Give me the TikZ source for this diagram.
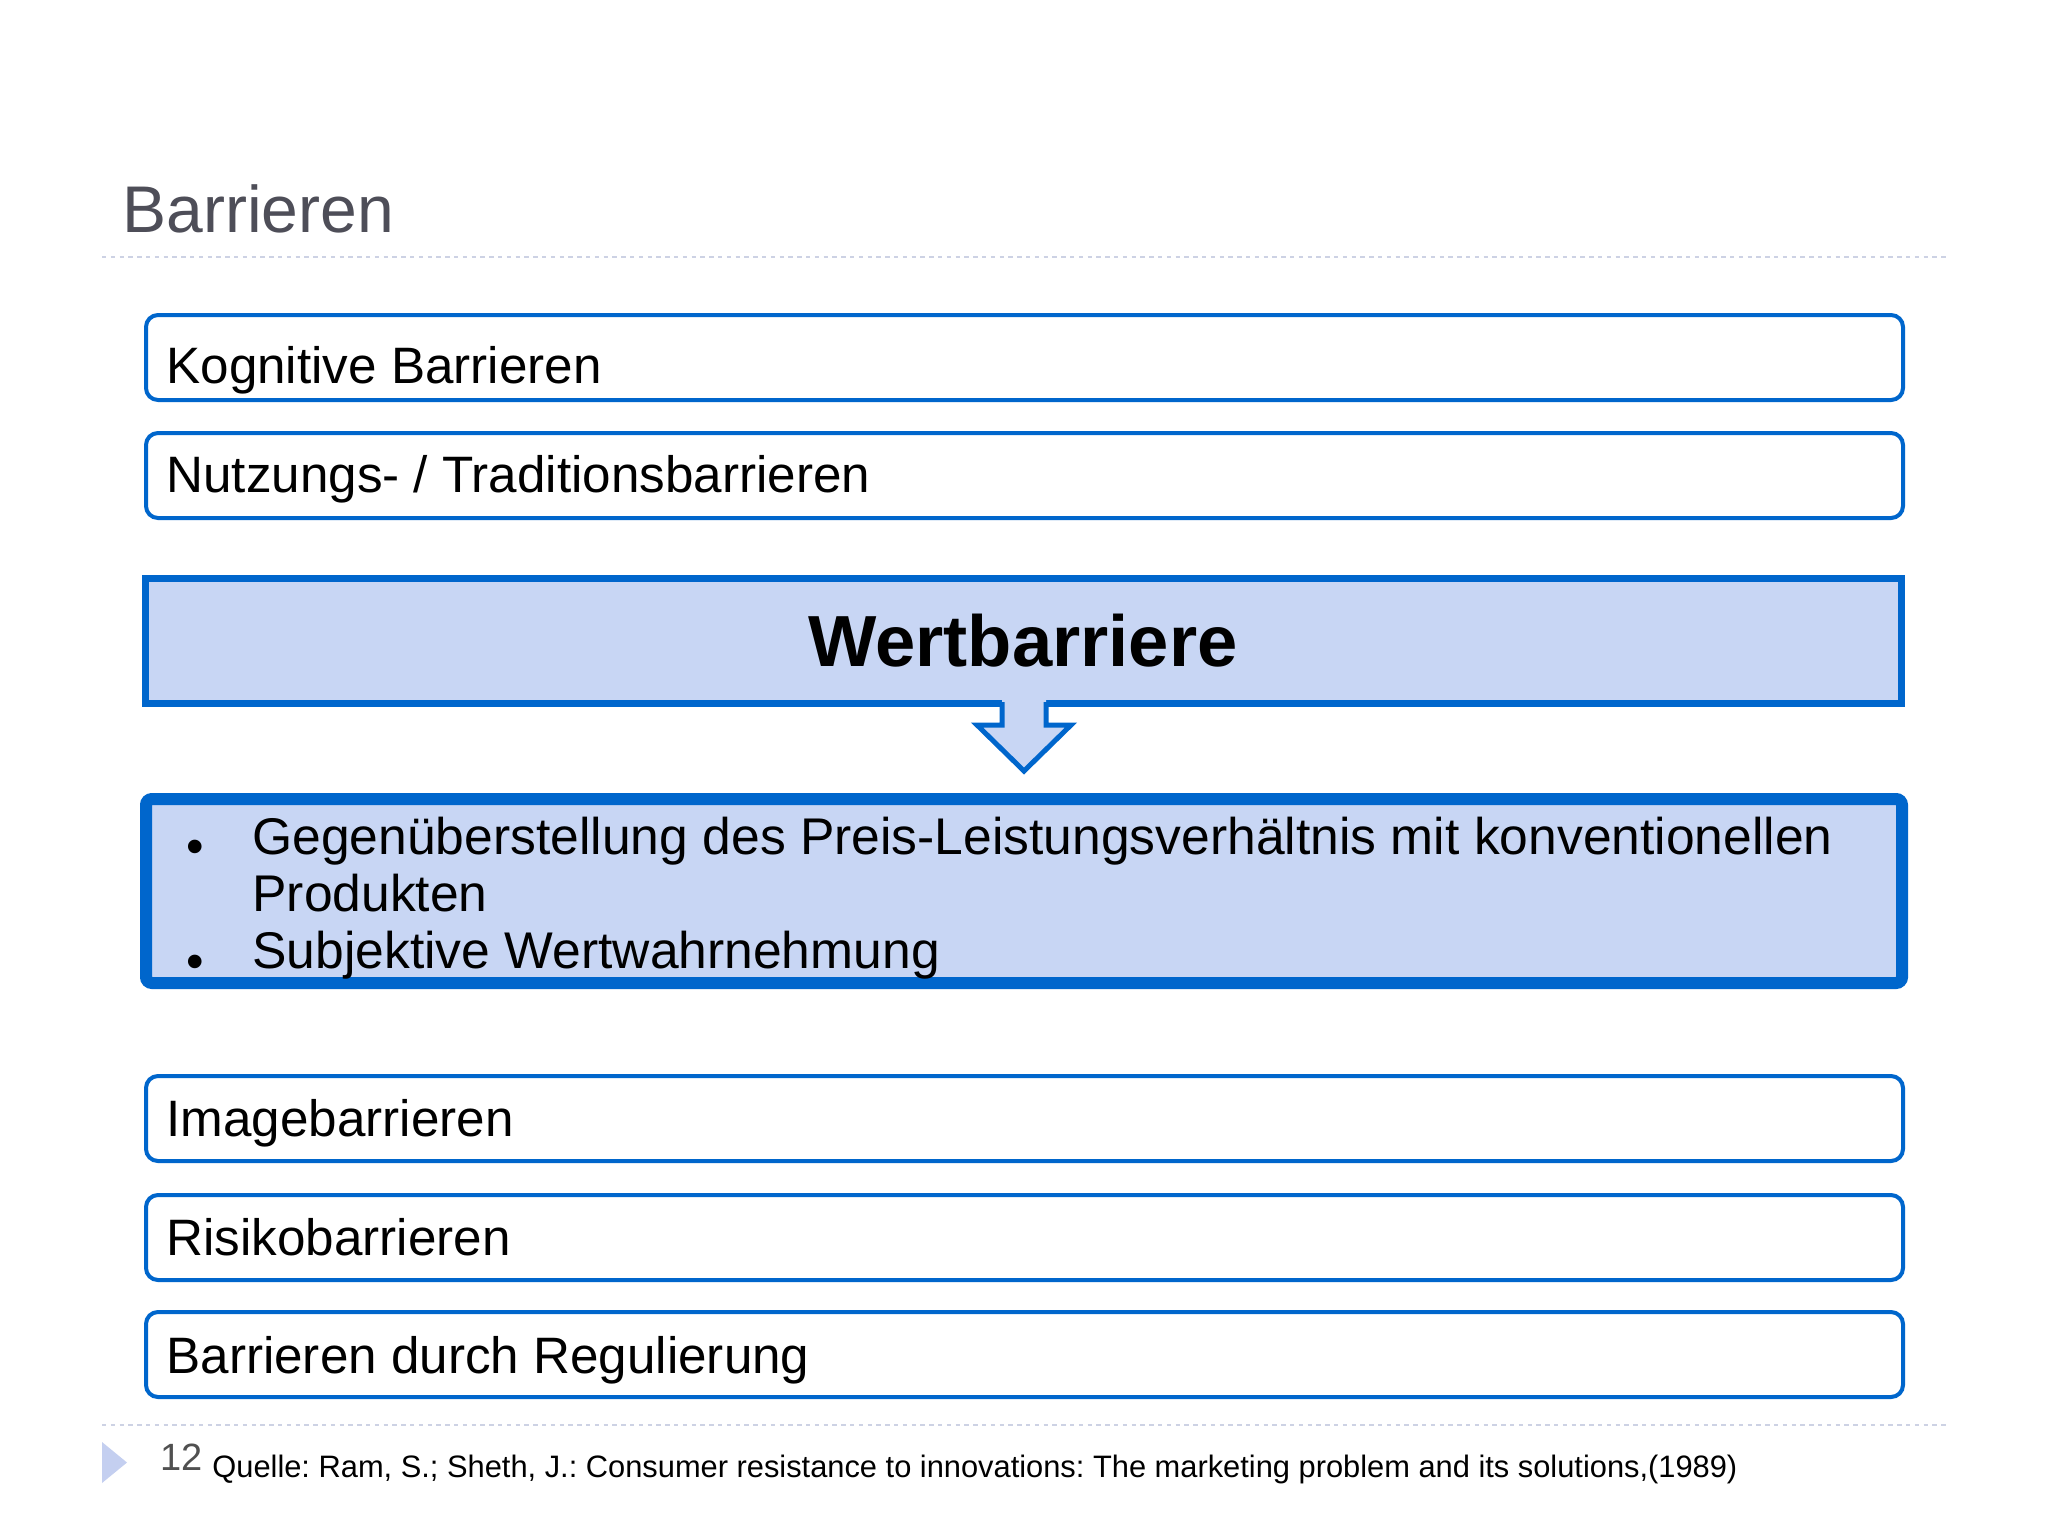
\documentclass[tikz,border=0pt]{standalone}
\usepackage{fontspec}
\usepackage{graphicx}
\setmainfont{Liberation Sans}
\frenchspacing
\definecolor{bord}{RGB}{0,102,204}
\definecolor{lfill}{RGB}{200,214,244}
\definecolor{titlegray}{RGB}{78,78,88}
\definecolor{dashc}{RGB}{205,210,228}
\definecolor{trif}{RGB}{196,207,240}
\definecolor{foot}{RGB}{80,80,80}
\tikzset{
  barbox/.style={draw=bord, line width=2pt, rounded corners=6pt, fill=white},
  bartext/.style={anchor=base west, inner sep=0pt, font=\fontsize{25.6}{28}\selectfont},
  bultext/.style={anchor=base west, inner sep=0pt, font=\fontsize{25.8}{28}\selectfont},
  bulmark/.style={anchor=base, inner sep=0pt, font=\fontsize{25}{25}\selectfont},
  sepline/.style={draw=dashc, line width=0.8pt, dash pattern=on 2.2pt off 2.2pt},
}
\begin{document}
\begin{tikzpicture}[x=0.5pt,y=-0.5pt]
\useasboundingbox[fill=white] (0,0) rectangle (2048,1537);
% title
\node[anchor=base west, inner sep=0pt, text=titlegray, font=\fontsize{33}{36}\selectfont] (title) at (122,232) {Barrieren};
\draw[sepline] (102,257) -- (1947,257);
% upper boxes
\draw[barbox] (146,315) rectangle (1903,400);
\node[bartext] (k) at (166,383) {Kognitive Barrieren};
\draw[barbox] (146,433) rectangle (1903,518);
\node[bartext] (n) at (166,492) {Nutzungs- / Traditionsbarrieren};
% Wertbarriere
\draw[draw=bord, fill=lfill, line width=3.5pt] (145.5,578.5) rectangle (1901.5,703.5);
\node[anchor=base, inner sep=0pt, font=\bfseries\fontsize{36.2}{40}\selectfont] (w) at (1023,666) {Wertbarriere};
% arrow
\fill[lfill] (1002,698) -- (1002,725) -- (977,725) -- (1024,771) -- (1071,725) -- (1046,725) -- (1046,698) -- cycle;
\draw[draw=bord, line width=2.5pt, line join=miter] (1002,702) -- (1002,725) -- (977,725) -- (1024,771) -- (1071,725) -- (1046,725) -- (1046,702);
% bullet box
\draw[draw=bord, fill=lfill, line width=6pt, rounded corners=3pt] (146,799) rectangle (1902,983);
\node[bulmark] (b1) at (195,863) {•};
\node[bultext] (g1) at (252,854) {Gegenüberstellung des Preis-Leistungsverhältnis mit konventionellen};
\node[bultext] (g2) at (252,911) {Produkten};
\node[bulmark] (b2) at (195,978) {•};
\node[bultext] (g3) at (252,968) {Subjektive Wertwahrnehmung};
% lower boxes
\draw[barbox] (146,1076) rectangle (1903,1161);
\node[bartext] (i) at (166,1136) {Imagebarrieren};
\draw[barbox] (146,1195) rectangle (1903,1280);
\node[bartext] (r) at (166,1255) {Risikobarrieren};
\draw[barbox] (146,1312) rectangle (1903,1397);
\node[bartext] (reg) at (166,1373) {Barrieren durch Regulierung};
% footer
\draw[sepline] (102,1425) -- (1947,1425);
\fill[trif] (102,1442) -- (127,1462.5) -- (102,1483) -- cycle;
\node[anchor=base west, inner sep=0pt, text=foot, font=\fontsize{19}{21}\selectfont] (pg) at (160,1470) {12};
\node[anchor=base west, inner sep=0pt, font=\fontsize{15.5}{18}\selectfont] (src) at (212,1477) {\resizebox{762.5pt}{\height}{Quelle: Ram, S.; Sheth, J.: Consumer resistance to innovations: The marketing problem and its solutions,(1989)}};
\end{tikzpicture}
\end{document}
